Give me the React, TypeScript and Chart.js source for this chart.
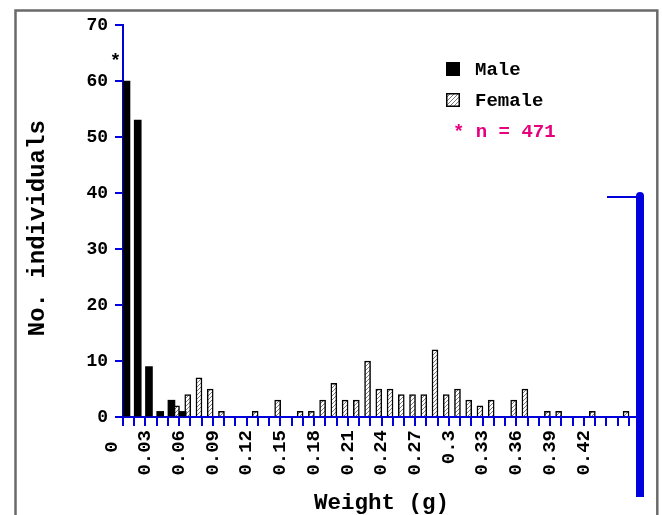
import React, { useEffect, useRef } from "react";
import { Chart, registerables } from "chart.js";

Chart.register(...registerables);

// ---- data ----
const maleBins = [0.0, 0.01, 0.02, 0.03, 0.04, 0.05];
const maleCounts = [60, 53, 9, 1, 3, 1];
const femaleBins = [
  0.04, 0.05, 0.06, 0.07, 0.08, 0.11, 0.13, 0.15, 0.16, 0.17, 0.18, 0.19, 0.2, 0.21, 0.22, 0.23,
  0.24, 0.25, 0.26, 0.27, 0.28, 0.29, 0.3, 0.31, 0.32, 0.34, 0.35, 0.37, 0.38, 0.41, 0.44,
];
const femaleCounts = [
  2, 4, 7, 5, 1, 1, 3, 1, 1, 3, 6, 3, 3, 10, 5, 5, 4, 4, 4, 12, 4, 5, 3, 2, 3, 3, 5, 1, 1, 1, 1,
];
const xLabelValues = [0, 0.03, 0.06, 0.09, 0.12, 0.15, 0.18, 0.21, 0.24, 0.27, 0.3, 0.33, 0.36, 0.39, 0.42];
const yTickValues = [0, 10, 20, 30, 40, 50, 60, 70];
const seriesNames = ["Male", "Female"];
const noteText = "* n = 471";
const truncatedMark = "*";
const xTitle = "Weight (g)";
const yTitle = "No. individuals";

const BLUE = "#0000dd";
const MAGENTA = "#e6007e";
const FONT = "'Liberation Mono', 'DejaVu Sans Mono', monospace";
const MALE_SHIFT = 0.0031;
const FEMALE_SHIFT = 0.0076;

function makeHatch(ctx: CanvasRenderingContext2D): CanvasPattern | string {
  const c = document.createElement("canvas");
  c.width = 4;
  c.height = 4;
  const p = c.getContext("2d");
  if (!p) return "#fff";
  p.fillStyle = "#ffffff";
  p.fillRect(0, 0, 4, 4);
  p.strokeStyle = "#7a7a7a";
  p.lineWidth = 1;
  p.beginPath();
  p.moveTo(0, 4);
  p.lineTo(4, 0);
  p.moveTo(-1, 1);
  p.lineTo(1, -1);
  p.moveTo(3, 5);
  p.lineTo(5, 3);
  p.stroke();
  return ctx.createPattern(c, "repeat") || "#fff";
}

const overlay = {
  id: "overlay",
  beforeDraw(chart: any) {
    const ctx = chart.ctx as CanvasRenderingContext2D;
    ctx.save();
    ctx.strokeStyle = "#6a6a6a";
    ctx.lineWidth = 2.5;
    ctx.strokeRect(15.5, 10.5, 641.8, 530);
    ctx.restore();
  },
  afterDraw(chart: any) {
    const ctx = chart.ctx as CanvasRenderingContext2D;
    const { chartArea, scales } = chart;
    ctx.save();
    // right-hand thick bar and its short arm
    const rx = chartArea.right;
    ctx.fillStyle = BLUE;
    ctx.fillRect(rx - 4, 196, 8, 301);
    ctx.beginPath();
    ctx.arc(rx, 196, 4, Math.PI, 0);
    ctx.fill();
    ctx.strokeStyle = BLUE;
    ctx.lineWidth = 2;
    ctx.beginPath();
    ctx.moveTo(607, 197);
    ctx.lineTo(rx - 4, 197);
    ctx.stroke();

    // asterisk over the truncated first bar
    ctx.font = `bold 19px ${FONT}`;
    ctx.fillStyle = "#000";
    ctx.textAlign = "center";
    ctx.textBaseline = "alphabetic";
    const ax = scales.x.getPixelForValue(maleBins[0]) - 7.5;
    const ay = scales.y.getPixelForValue(maleCounts[0] + 2.7);
    ctx.fillText(truncatedMark, ax, ay);

    // legend
    ctx.textAlign = "left";
    chart.data.datasets.forEach((ds: any, i: number) => {
      const y0 = 62 + i * 31;
      ctx.fillStyle = ds.backgroundColor;
      ctx.fillRect(446, y0, 14, 14);
      if (ds.borderWidth) {
        ctx.strokeStyle = "#000";
        ctx.lineWidth = 1.5;
        ctx.strokeRect(446.75, y0 + 0.75, 12.5, 12.5);
      }
      ctx.fillStyle = "#000";
      ctx.fillText(ds.label, 475, y0 + 13.3);
    });
    ctx.fillStyle = MAGENTA;
    ctx.fillText(noteText, 453, 137.3);
    ctx.restore();
  },
};

export default function App() {
  const ref = useRef<HTMLCanvasElement | null>(null);

  useEffect(() => {
    const canvas = ref.current;
    if (!canvas) return;
    const ctx = canvas.getContext("2d");
    if (!ctx) return;
    const hatch = makeHatch(ctx);

    const chart = new Chart(ctx, {
      type: "bar",
      data: {
        datasets: [
          {
            label: seriesNames[0],
            data: maleBins.map((b, i) => ({ x: b + MALE_SHIFT, y: maleCounts[i] })),
            backgroundColor: "#000000",
            borderWidth: 0,
            barThickness: 7,
            grouped: false,
          } as any,
          {
            label: seriesNames[1],
            data: femaleBins.map((b, i) => ({ x: b + FEMALE_SHIFT, y: femaleCounts[i] })),
            backgroundColor: hatch,
            borderColor: "#000000",
            borderWidth: 1.5,
            borderSkipped: "bottom",
            barThickness: 6,
            grouped: false,
          } as any,
        ],
      },
      options: {
        animation: false,
        responsive: false,
        events: [],
        layout: { padding: { left: 0, top: 25, right: 22, bottom: 0 } },
        plugins: { legend: { display: false }, tooltip: { enabled: false } },
        scales: {
          x: {
            type: "linear",
            min: 0,
            max: 0.46,
            offset: false,
            afterFit: (s: any) => {
              s.height = 98;
              s.paddingLeft = 0;
              s.paddingRight = 0;
            },
            grid: {
              offset: false,
              drawOnChartArea: false,
              drawTicks: true,
              tickLength: 9,
              color: BLUE,
              lineWidth: 2,
            },
            border: { color: BLUE, width: 2 },
            ticks: {
              stepSize: 0.01,
              maxTicksLimit: 100,
              autoSkip: false,
              minRotation: 90,
              maxRotation: 90,
              padding: 4,
              labelOffset: -11.24,
              color: "#000",
              font: { family: FONT, size: 19, weight: "bold" },
              callback: (v: any) => {
                const n = Math.round(Number(v) * 100);
                const hit = xLabelValues.find((l) => Math.round(l * 100) === n);
                if (hit === undefined) return "";
                return hit === 0 ? "0 " : String(hit);
              },
            },
            title: {
              display: true,
              text: xTitle,
              color: "#000",
              font: { family: FONT, size: 22.5, weight: "bold" },
              padding: { top: 0, bottom: -2 },
            },
          },
          y: {
            type: "linear",
            min: yTickValues[0],
            max: yTickValues[yTickValues.length - 1],
            afterFit: (s: any) => {
              s.width = 123;
              s.paddingTop = 0;
              s.paddingBottom = 0;
            },
            grid: {
              drawOnChartArea: false,
              drawTicks: true,
              tickLength: 8,
              color: BLUE,
              lineWidth: 2,
            },
            border: { color: BLUE, width: 2 },
            ticks: {
              stepSize: 10,
              padding: 7,
              color: "#000",
              font: { family: FONT, size: 18, weight: "bold" },
            },
            title: {
              display: true,
              text: yTitle + " ",
              color: "#000",
              font: { family: FONT, size: 24, weight: "bold" },
              padding: { top: 23.6, bottom: 0 },
            },
          },
        },
      } as any,
      plugins: [overlay],
    });
    return () => chart.destroy();
  }, []);

  return (
    <div style={{ position: "absolute", left: 0, top: 0, width: 662, height: 515 }}>
      <canvas ref={ref} width={662} height={515} style={{ display: "block" }} />
    </div>
  );
}
